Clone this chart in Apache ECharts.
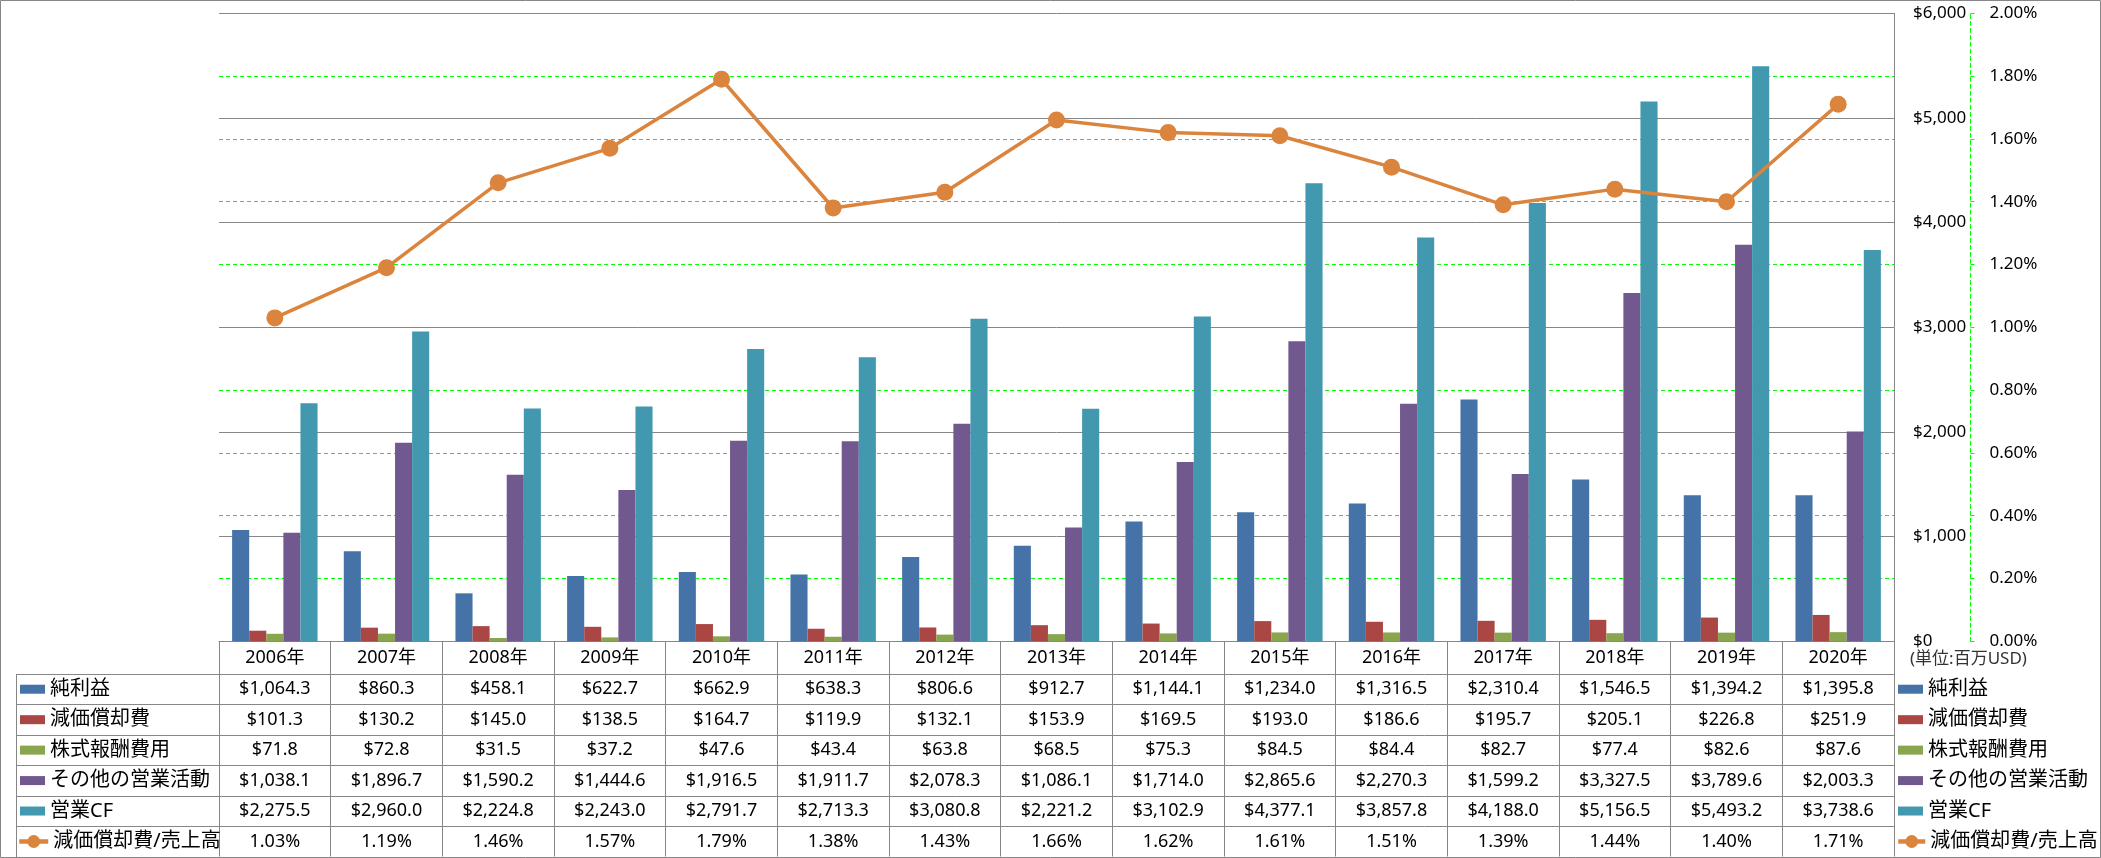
<!DOCTYPE html>
<html>
<head>
<meta charset="utf-8">
<script src="https://cdn.jsdelivr.net/npm/echarts@6/dist/echarts.min.js"></script>
<style>html,body{margin:0;padding:0;background:#fff}#c{width:2101px;height:858px}</style>
</head>
<body>
<div id="c"></div>
<script>
// ---- data ----
const years = ['2006年','2007年','2008年','2009年','2010年','2011年','2012年','2013年','2014年','2015年','2016年','2017年','2018年','2019年','2020年'];
const netIncome    = [1064.3, 860.3, 458.1, 622.7, 662.9, 638.3, 806.6, 912.7, 1144.1, 1234.0, 1316.5, 2310.4, 1546.5, 1394.2, 1395.8];
const depreciation = [101.3, 130.2, 145.0, 138.5, 164.7, 119.9, 132.1, 153.9, 169.5, 193.0, 186.6, 195.7, 205.1, 226.8, 251.9];
const stockComp    = [71.8, 72.8, 31.5, 37.2, 47.6, 43.4, 63.8, 68.5, 75.3, 84.5, 84.4, 82.7, 77.4, 82.6, 87.6];
const otherOps     = [1038.1, 1896.7, 1590.2, 1444.6, 1916.5, 1911.7, 2078.3, 1086.1, 1714.0, 2865.6, 2270.3, 1599.2, 3327.5, 3789.6, 2003.3];
const operatingCF  = [2275.5, 2960.0, 2224.8, 2243.0, 2791.7, 2713.3, 3080.8, 2221.2, 3102.9, 4377.1, 3857.8, 4188.0, 5156.5, 5493.2, 3738.6];
const deprRatio    = [1.03, 1.19, 1.46, 1.57, 1.79, 1.38, 1.43, 1.66, 1.62, 1.61, 1.51, 1.39, 1.44, 1.40, 1.71];
const seriesNames  = ['純利益','減価償却費','株式報酬費用','その他の営業活動','営業CF','減価償却費/売上高'];
const unitLabel    = '(単位:百万USD)';

// ---- layout / style ----
const W = 2101, H = 858;
const GL = 219, GR = 1894, GT = 13.3, GB = 641.3;
const ROW0 = 674, ROWH = 30.45;
const GRAY = '#868686';
const GREEN = '#00ff00';
const FONT = "'Noto Sans','Noto Sans CJK JP',sans-serif";
const colors = ['#4572A7','#AA4643','#89A54E','#71588F','#4198AF','#DB843D'];

function money(v){
  const s = v.toFixed(1).split('.');
  return '$' + s[0].replace(/\B(?=(\d{3})+(?!\d))/g, ',') + '.' + s[1];
}
const pct = v => v.toFixed(2) + '%';
const barData = [netIncome, depreciation, stockComp, otherOps, operatingCF];
const tableRows = [
  {data: netIncome, fmt: money},
  {data: depreciation, fmt: money},
  {data: stockComp, fmt: money},
  {data: otherOps, fmt: money},
  {data: operatingCF, fmt: money},
  {data: deprRatio, fmt: pct}
];

const xAxes = [{
  type: 'category', data: years, position: 'bottom',
  axisLine: {show: true, lineStyle: {color: GRAY, width: 1}},
  axisTick: {show: true, interval: 0, length: H - GB - 1.5, lineStyle: {color: GRAY, width: 1}},
  axisLabel: {interval: 0, margin: 16.7, verticalAlign: 'middle', fontSize: 18, color: '#000', fontFamily: FONT},
  splitLine: {show: false}
}];
tableRows.forEach((r, i) => {
  xAxes.push({
    type: 'category', data: years, position: 'bottom',
    offset: (ROW0 + ROWH * i + ROWH / 2) - GB,
    axisLine: {show: false}, axisTick: {show: false}, splitLine: {show: false},
    axisLabel: {interval: 0, margin: 0, verticalAlign: 'middle', fontSize: 18, color: '#000', fontFamily: FONT,
      formatter: (v, idx) => r.fmt(r.data[idx])}
  });
});

const series = barData.map((d, i) => ({
  name: seriesNames[i], type: 'bar', data: d, xAxisIndex: 0, yAxisIndex: 0,
  barGap: '0%', barCategoryGap: '23.5%',
  itemStyle: {color: colors[i]}
}));
series.push({
  name: seriesNames[5], type: 'line', data: deprRatio, xAxisIndex: 0, yAxisIndex: 1,
  symbol: 'circle', symbolSize: 17, z: 5,
  lineStyle: {color: colors[5], width: 3.5},
  itemStyle: {color: colors[5]}
});

const graphics = [
  {type: 'rect', shape: {x: 0.5, y: 0.5, width: W - 1, height: H - 1}, style: {fill: 'none', stroke: GRAY, lineWidth: 1}, silent: true},
  {type: 'line', shape: {x1: 16.5, y1: ROW0, x2: 16.5, y2: H}, style: {stroke: GRAY, lineWidth: 1}, silent: true},
  {type: 'text', left: 1910, top: 651, style: {text: unitLabel, font: "17px " + FONT, fill: '#333'}, silent: true}
];
for (let i = 0; i < 6; i++) {
  const y = Math.round(ROW0 + ROWH * i) + 0.5;
  graphics.push({type: 'line', shape: {x1: 16.5, y1: y, x2: GR, y2: y}, style: {stroke: GRAY, lineWidth: 1}, silent: true});
}

function legendCfg(left, top, names, w, h, icon){
  const c = {
    orient: 'vertical', left: left, top: top, padding: 0, itemGap: 0,
    itemWidth: w, itemHeight: h, data: names, selectedMode: false,
    textStyle: {fontSize: 20, lineHeight: ROWH, color: '#000', fontFamily: FONT}
  };
  if (icon) c.icon = icon;
  else c.lineStyle = {width: 4.5, color: colors[5]};
  return c;
}

const option = {
  animation: false,
  backgroundColor: '#fff',
  grid: {left: GL, right: W - GR, top: GT, bottom: H - GB, containLabel: false, outerBoundsMode: 'none'},
  legend: [
    legendCfg(20, ROW0, seriesNames.slice(0,5), 25, 9, 'rect'),
    legendCfg(17, ROW0 + ROWH * 5, [seriesNames[5]], 29, 16),
    legendCfg(1898, ROW0, seriesNames.slice(0,5), 25, 9, 'rect'),
    legendCfg(1896, ROW0 + ROWH * 5, [seriesNames[5]], 27, 16)
  ],
  xAxis: xAxes,
  yAxis: [
    {type: 'value', position: 'right', min: 0, max: 6000, interval: 1000, z: 1,
     axisLine: {show: true, lineStyle: {color: GRAY, width: 1}},
     axisTick: {show: false},
     axisLabel: {margin: 19, fontSize: 17, color: '#000', fontFamily: FONT,
       formatter: v => '$' + v.toLocaleString('en-US')},
     splitLine: {show: true, lineStyle: {color: GRAY, width: 1}}},
    {type: 'value', position: 'right', offset: 1970.5 - GR, min: 0, max: 2, interval: 0.2, z: 0,
     axisLine: {show: true, lineStyle: {color: GREEN, width: 1, type: [4, 3]}},
     axisTick: {show: true, length: 4, lineStyle: {color: GREEN, width: 1}},
     axisLabel: {margin: 19, fontSize: 17, color: '#000', fontFamily: FONT,
       formatter: v => v.toFixed(2) + '%'},
     splitLine: {show: true, lineStyle: {color: GREEN, width: 1, type: [4, 3]}}}
  ],
  series: series,
  graphic: graphics
};
const chart = echarts.init(document.getElementById('c'), null, {renderer: 'canvas', width: W, height: H});
chart.setOption(option);
</script>
</body>
</html>
